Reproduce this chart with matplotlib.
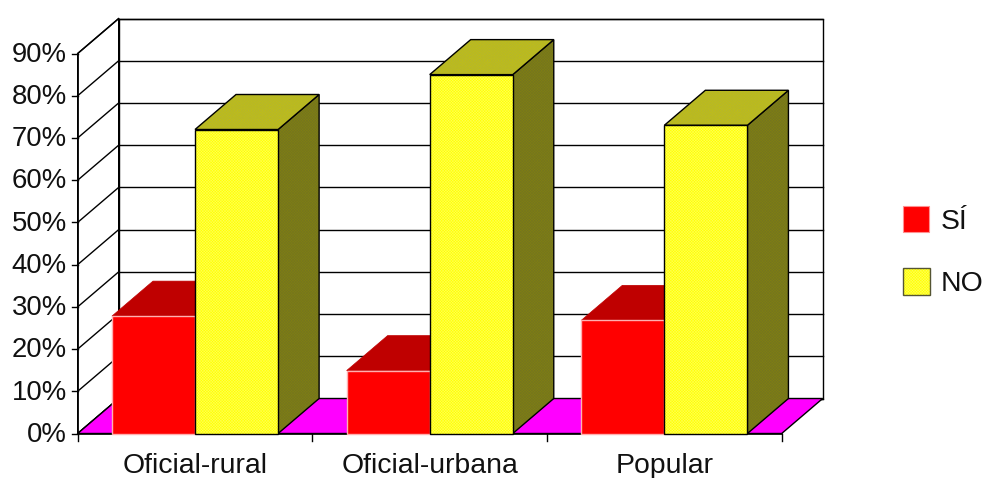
import matplotlib
matplotlib.use("Agg")
import matplotlib.pyplot as plt
from matplotlib.patches import Polygon, Rectangle
from matplotlib.transforms import Affine2D

plt.rcParams['font.family'] = ['Liberation Sans', 'DejaVu Sans']
plt.rcParams['hatch.linewidth'] = 0.4

categorias = ['Oficial-rural', 'Oficial-urbana', 'Popular']
valores_si = [27.8, 14.9, 26.8]
valores_no = [72.0, 85.0, 73.0]
ticks_y = [0, 10, 20, 30, 40, 50, 60, 70, 80, 90]

W, H = 984, 478
DX, DY = 41, 35      # profundidad 3D en pixeles
ANCHO = 0.354        # ancho de cada barra en unidades de categoria
TRAMA = 'xxxxxxxxxxxx'
LETRA = 19.8
LETRA_CAT = 20.4

fig = plt.figure(figsize=(W / 100, H / 100), dpi=100)
ax = fig.add_axes([77.7 / W, (H - 433.5) / H, 704 / W, 380 / H])
ax.set_xlim(0, 3)
ax.set_ylim(0, 90)
ax.axis('off')

frente = ax.transData
fondo = ax.transData + Affine2D().translate(DX, DY)


def poli(puntos, color, borde='black', lw=1.0, z=1, trama=None, color_trama=None):
    # puntos: (x, y, prof) donde prof 0 es frente y 1 es fondo
    base = ax.transData
    pix = []
    for x, y, p in puntos:
        px, py = base.transform((x, y))
        pix.append((px + DX * p, py + DY * p))
    if trama:
        ax.add_patch(Polygon(pix, closed=True, facecolor=color, edgecolor=color_trama,
                             hatch=trama, lw=0, transform=None, zorder=z, clip_on=False))
        ax.add_patch(Polygon(pix, closed=True, fill=False, edgecolor=borde, lw=lw,
                             transform=None, zorder=z, clip_on=False))
    else:
        ax.add_patch(Polygon(pix, closed=True, facecolor=color, edgecolor=borde, lw=lw,
                             transform=None, zorder=z, clip_on=False))


def barra(x0, x1, alto, z):
    # amarilla con cara lateral y superior
    poli([(x1, 0, 0), (x1, alto, 0), (x1, alto, 1), (x1, 0, 1)], '#808010', z=z,
         trama=TRAMA, color_trama='#747420')
    poli([(x0, alto, 0), (x1, alto, 0), (x1, alto, 1), (x0, alto, 1)], '#c0c010', z=z,
         trama=TRAMA, color_trama='#b4b430')
    poli([(x0, 0, 0), (x1, 0, 0), (x1, alto, 0), (x0, alto, 0)], '#ffff00', z=z,
         trama=TRAMA, color_trama='#ffff50')


# paredes y piso
poli([(0, 0, 1), (3, 0, 1), (3, 90, 1), (0, 90, 1)], 'white', z=0)
poli([(0, 0, 0), (0, 0, 1), (0, 90, 1), (0, 90, 0)], 'white', z=0)
poli([(0, 0, 0), (3, 0, 0), (3, 0, 1), (0, 0, 1)], '#ff00ff', z=0.5)

for t in ticks_y:
    ax.plot([0, 3], [t, t], color='black', lw=1.0, transform=fondo, zorder=0.4, clip_on=False)
    x0, y0 = frente.transform((0, t))
    ax.plot([x0, x0 + DX], [y0, y0 + DY], color='black', lw=1.0, transform=None,
            zorder=0.4, clip_on=False)
    ax.text(-0.047, t - 0.3, f'{t}%', ha='right', va='center', fontsize=LETRA, color='#111111',
            clip_on=False)
    ax.plot([x0 - 6, x0], [y0, y0], color='black', lw=1.0, transform=None, clip_on=False)

# eje y, eje x y marcas
ax.plot([0, 0], [0, 90], color='black', lw=1.2, clip_on=False, zorder=0.6)
ax.plot([0, 3], [0, 0], color='black', lw=1.2, clip_on=False, zorder=0.6)
for i in range(4):
    x0, y0 = frente.transform((i, 0))
    ax.plot([x0, x0], [y0, y0 - 7], color='black', lw=1.0, transform=None, clip_on=False)

# barras
for i, cat in enumerate(categorias):
    izq = i + 0.5 - ANCHO
    med = i + 0.5
    der = i + 0.5 + ANCHO
    a = valores_si[i]
    poli([(izq, a, 0), (med, a, 0), (med, a, 1), (izq, a, 1)], '#bf0000', borde='#bf0000',
         lw=0.5, z=2 + i)
    poli([(izq, 0, 0), (med, 0, 0), (med, a, 0), (izq, a, 0)], '#ff0000', borde='#ffb0b0',
         lw=1.0, z=2 + i)
    barra(med, der, valores_no[i], 2.5 + i)
    ax.text(i + 0.5, -7.6, cat, ha='center', va='center', fontsize=LETRA_CAT, color='#111111',
            clip_on=False)

# leyenda
fig.add_artist(Rectangle((903 / W, (H - 232) / H), 26 / W, 26 / H, facecolor='#ff0000',
                         edgecolor='#ff9090', lw=0.8, transform=fig.transFigure))
fig.add_artist(Rectangle((902.5 / W, (H - 295) / H), 27 / W, 27 / H, facecolor='#ffff00',
                         edgecolor='#ffff50', lw=0, hatch=TRAMA,
                         transform=fig.transFigure))
fig.add_artist(Rectangle((902.5 / W, (H - 295) / H), 27 / W, 27 / H, fill=False,
                         edgecolor='#555533', lw=1.0, transform=fig.transFigure))
fig.text(941 / W, (H - 222) / H, 'SÍ', ha='left', va='center', fontsize=LETRA_CAT, color='#111111')
fig.text(941 / W, (H - 284) / H, 'NO', ha='left', va='center', fontsize=LETRA_CAT, color='#111111')

fig.savefig('out.png', dpi=100, facecolor='white')
